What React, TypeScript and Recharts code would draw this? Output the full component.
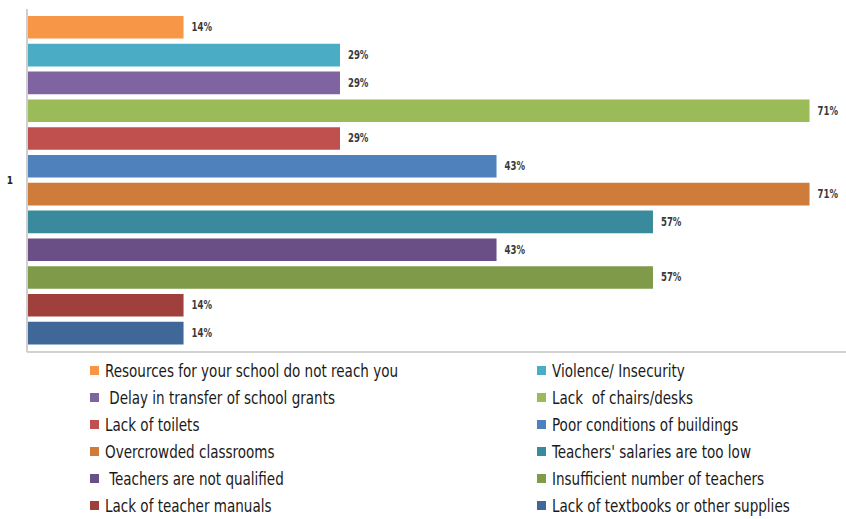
import React from "react";
import { BarChart, Bar, XAxis, YAxis, LabelList } from "recharts";

const categories = ["1"];
const seriesNames = [
  "Resources for your school do not reach you",
  "Violence/ Insecurity",
  " Delay in transfer of school grants",
  "Lack  of chairs/desks",
  "Lack of toilets",
  "Poor conditions of buildings",
  "Overcrowded classrooms",
  "Teachers' salaries are too low",
  " Teachers are not qualified",
  "Insufficient number of teachers",
  "Lack of teacher manuals",
  "Lack of textbooks or other supplies",
];
const seriesValues = [14.29, 28.57, 28.57, 71.43, 28.57, 42.86, 71.43, 57.14, 42.86, 57.14, 14.29, 14.29];
const seriesColors = [
  "#F79646", "#4BACC6", "#8064A2", "#9BBB59", "#C0504D", "#4F81BD",
  "#CF7B3A", "#3A8A9E", "#694F86", "#7F9A48", "#9F403D", "#3F6899",
];

const data = categories.map((c) => {
  const row: Record<string, string | number> = { name: c };
  seriesValues.forEach((v, i) => {
    row["s" + i] = v;
  });
  return row;
});

const FONT = "'DejaVu Sans Condensed', 'Liberation Sans Narrow', sans-serif";

const ValueLabel = (props: any) => {
  const { x, y, width, height, value } = props;
  const tx = Number(x) + Number(width) + 8;
  const ty = Number(y) + Number(height) / 2;
  return (
    <text
      transform={`translate(${tx},${ty}) scale(0.76,1)`}
      x={0}
      y={0}
      dominantBaseline="central"
      fontSize={12.5}
      fontWeight="bold"
      fill="#3a3a3a"
      fontFamily={FONT}
    >
      {Math.round(Number(value)) + "%"}
    </text>
  );
};

const LegendBlock = () => (
  <div
    style={{
      position: "absolute",
      left: 90,
      top: 357,
      display: "grid",
      gridTemplateColumns: "447px 300px",
      fontFamily: FONT,
      fontSize: 18,
      color: "#1a1a1a",
    }}
  >
    {seriesNames.map((n, i) => (
      <div key={i} style={{ display: "flex", alignItems: "center", height: 27, whiteSpace: "pre" }}>
        <span style={{ display: "inline-block", width: 9, height: 9, background: seriesColors[i], marginRight: 6, flex: "none" }} />
        <span style={{ display: "inline-block", transform: "scaleX(0.835)", transformOrigin: "left center" }}>{n}</span>
      </div>
    ))}
  </div>
);

export default function App() {
  return (
    <div style={{ width: 846, height: 519, position: "relative", background: "#fff", overflow: "hidden" }}>
      <style>{`body{margin:0;}`}</style>
      <BarChart
        width={846}
        height={519}
        data={data}
        layout="vertical"
        margin={{ top: 9, right: 0, left: 0, bottom: 166 }}
        barSize={22.6}
        barGap={5.2}
      >
        <XAxis
          type="number"
          domain={[0, 74.76]}
          tick={false}
          tickLine={false}
          height={1}
          axisLine={{ stroke: "#d2d2d2", strokeWidth: 2 }}
        />
        <YAxis
          type="category"
          dataKey="name"
          width={27}
          tickLine={false}
          tickSize={0}
          tickMargin={14}
          axisLine={{ stroke: "#cfcfcf", strokeWidth: 2 }}
          tick={{ fontSize: 10, fill: "#222", fontFamily: FONT, fontWeight: "bold" }}
        />
        {seriesNames.map((n, i) => (
          <Bar key={i} dataKey={"s" + i} name={n} fill={seriesColors[i]} isAnimationActive={false}>
            <LabelList dataKey={"s" + i} content={<ValueLabel />} />
          </Bar>
        ))}
      </BarChart>
      <LegendBlock />
    </div>
  );
}
